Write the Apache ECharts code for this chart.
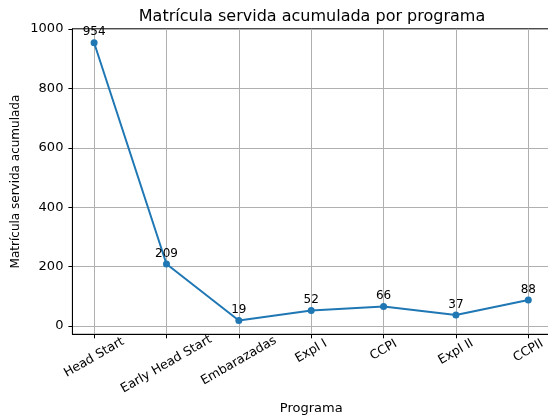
<!DOCTYPE html>
<html>
<head>
<meta charset="utf-8">
<script src="https://cdn.jsdelivr.net/npm/echarts@6/dist/echarts.min.js"></script>
<style>
html, body { margin: 0; padding: 0; background: #fff; }
#container { width: 548px; height: 419px; }
</style>
</head>
<body>
<div id="container"></div>
<script>
var programas = ['Head Start', 'Early Head Start', 'Embarazadas', 'Expl I', 'CCPI', 'Expl II', 'CCPII'];
var matricula = [954, 209, 19, 52, 66, 37, 88];
var yTicks = [0, 200, 400, 600, 800, 1000];

var FONT = 'DejaVu Sans';
var dom = document.getElementById('container');
var myChart = echarts.init(dom, null, { renderer: 'canvas' });

// x positions are the category indexes
var xTicks = programas.map(function (p, i) { return i; });
var seriesData = matricula.map(function (v, i) { return [i, v]; });

// rotated labels centred under the tick, like matplotlib (rotation=30, ha=center)
var ctx = document.createElement('canvas').getContext('2d');
ctx.font = '12px "' + FONT + '"';
var rich = {};
programas.forEach(function (p, i) {
    var s = 0.8 * (12.8 + 0.25 * ctx.measureText(p).width);
    rich['p' + i] = {
        padding: [1.732 * s, s, 0, 0],
        fontSize: 12.5, fontFamily: FONT, color: '#000'
    };
});

var option = {
    animation: false,
    backgroundColor: '#fff',
    title: {
        text: 'Matrícula servida acumulada por programa',
        left: 307, top: 4, textAlign: 'center',
        textStyle: { fontFamily: FONT, fontSize: 16, fontWeight: 'normal', color: '#000' }
    },
    grid: {
        left: 72.4, right: -2, top: 28.8, bottom: 84.7,
        show: true, borderColor: '#000', borderWidth: 1,
        outerBoundsMode: 'none'
    },
    xAxis: {
        type: 'value',
        min: -0.3, max: 6.3,
        name: 'Programa',
        nameLocation: 'middle', nameGap: 68, nameMoveOverlap: false,
        nameTextStyle: { fontFamily: FONT, fontSize: 13, color: '#000' },
        axisLine: { onZero: false, lineStyle: { color: '#000', width: 1 } },
        axisTick: { customValues: xTicks, length: 4, lineStyle: { color: '#000' } },
        splitLine: { show: true, lineStyle: { color: '#b0b0b0', width: 1 } },
        axisLabel: {
            customValues: xTicks,
            rotate: 30, margin: 0,
            align: 'center', verticalAlign: 'middle',
            fontFamily: FONT, fontSize: 12.5, color: '#000',
            rich: rich,
            formatter: function (v) {
                return '{p' + v + '|' + programas[v] + '}';
            }
        }
    },
    yAxis: {
        type: 'value',
        min: -27.75, max: 1000.75,
        name: 'Matrícula servida acumulada',
        nameLocation: 'middle', nameGap: 51, nameMoveOverlap: false,
        nameTextStyle: { fontFamily: FONT, fontSize: 12, color: '#000' },
        axisLine: { show: true, onZero: false, lineStyle: { color: '#000', width: 1 } },
        axisTick: { show: true, customValues: yTicks, length: 4, lineStyle: { color: '#000' } },
        splitLine: { show: true, lineStyle: { color: '#b0b0b0', width: 1 } },
        axisLabel: {
            customValues: yTicks, margin: 9,
            fontFamily: FONT, fontSize: 13, color: '#000',
            formatter: function (v) { return String(v); }
        }
    },
    series: [{
        type: 'line',
        data: seriesData,
        symbol: 'circle',
        symbolSize: 7,
        color: '#1f77b4',
        lineStyle: { width: 2, color: '#1f77b4' },
        itemStyle: { color: '#1f77b4' },
        label: {
            show: true, position: 'top', distance: 1,
            fontFamily: FONT, fontSize: 12, color: '#000',
            formatter: function (p) { return p.value[1]; }
        }
    }]
};

myChart.setOption(option);
</script>
</body>
</html>
